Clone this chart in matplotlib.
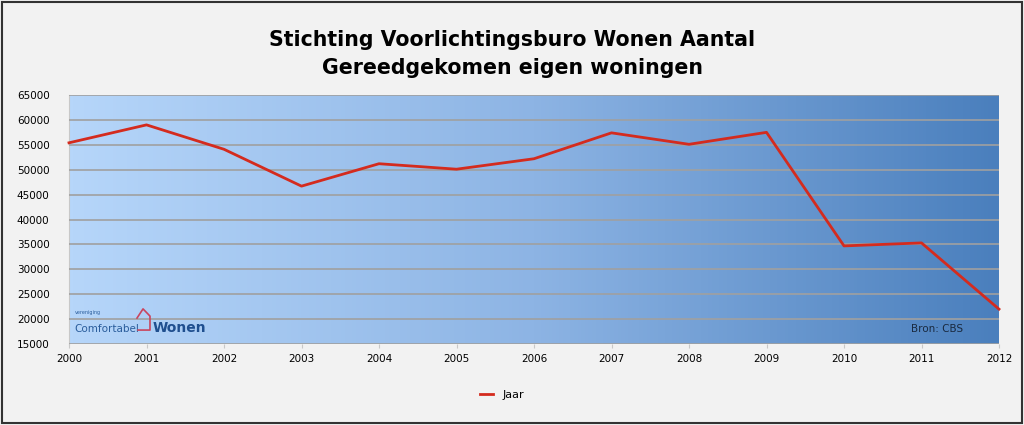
import numpy as np
import matplotlib.pyplot as plt
from matplotlib.colors import LinearSegmentedColormap

years = np.arange(2000, 2013)
jaar = [55400, 59000, 54100, 46700, 51200, 50100, 52200, 57400, 55100, 57500, 34700, 35300, 22000]
yticks = np.arange(15000, 65001, 5000)

fig = plt.figure(figsize=(10.24, 4.25), dpi=100)
fig.patch.set_facecolor('#f2f2f2')
# outer border
fig.add_artist(plt.Rectangle((0.002, 0.004), 0.996, 0.992, transform=fig.transFigure,
                             fill=False, edgecolor='#333333', linewidth=1.5))

ax = fig.add_axes([69/1024, 1-344/425, 930/1024, 249/425])
ax.set_xlim(2000, 2012)
ax.set_ylim(15000, 65000)

# gradient background
cmap = LinearSegmentedColormap.from_list('bg', ['#b6d6fa', '#8db4e4', '#4a7fbd'])
grad = np.linspace(0, 1, 256).reshape(1, -1)
ax.imshow(grad, extent=[2000, 2012, 15000, 65000], aspect='auto', cmap=cmap, zorder=0)

ax.set_yticks(yticks)
ax.set_xticks(years)
ax.grid(axis='y', color='#a0a0a0', linewidth=1.2, zorder=1)
ax.set_axisbelow(False)
for s in ax.spines.values():
    s.set_visible(False)
ax.spines['left'].set_visible(True)
ax.spines['left'].set_color('#c8c8c8')
ax.tick_params(axis='y', length=0, labelsize=7.5, pad=14)
ax.tick_params(axis='x', length=3, color='#c8c8c8', labelsize=7.5, pad=4)

ax.plot(years, jaar, color='#d42b1e', linewidth=2, label='Jaar', zorder=3, clip_on=False)

fig.text(0.5, 0.905, 'Stichting Voorlichtingsburo Wonen Aantal', ha='center', va='center',
         fontsize=14.8, fontweight='bold', family='DejaVu Sans')
fig.text(0.5, 0.84, 'Gereedgekomen eigen woningen', ha='center', va='center',
         fontsize=14.8, fontweight='bold', family='DejaVu Sans')

# logo
ax.text(0.006, 0.12, 'vereniging', transform=ax.transAxes, fontsize=3.5, color='#2a5d9c')
ax.text(0.006, 0.05, 'Comfortabel', transform=ax.transAxes, fontsize=7.5, color='#2a5d9c')
ax.text(0.090, 0.05, 'Wonen', transform=ax.transAxes, fontsize=10, color='#1f4f8f', fontweight='bold')
ax.plot([0.0731, 0.0796, 0.0871, 0.0871, 0.0742],
        [0.104, 0.141, 0.112, 0.056, 0.056], transform=ax.transAxes,
        color='#c9455e', linewidth=1.2, zorder=4)

ax.text(0.961, 0.05, 'Bron: CBS', transform=ax.transAxes, ha='right', fontsize=7.5, color='#1a2a40')

fig.legend(loc='center', bbox_to_anchor=(0.49, 0.07), frameon=False, fontsize=8,
           handlelength=1.2)

fig.savefig('out.png', dpi=100, facecolor=fig.get_facecolor())
